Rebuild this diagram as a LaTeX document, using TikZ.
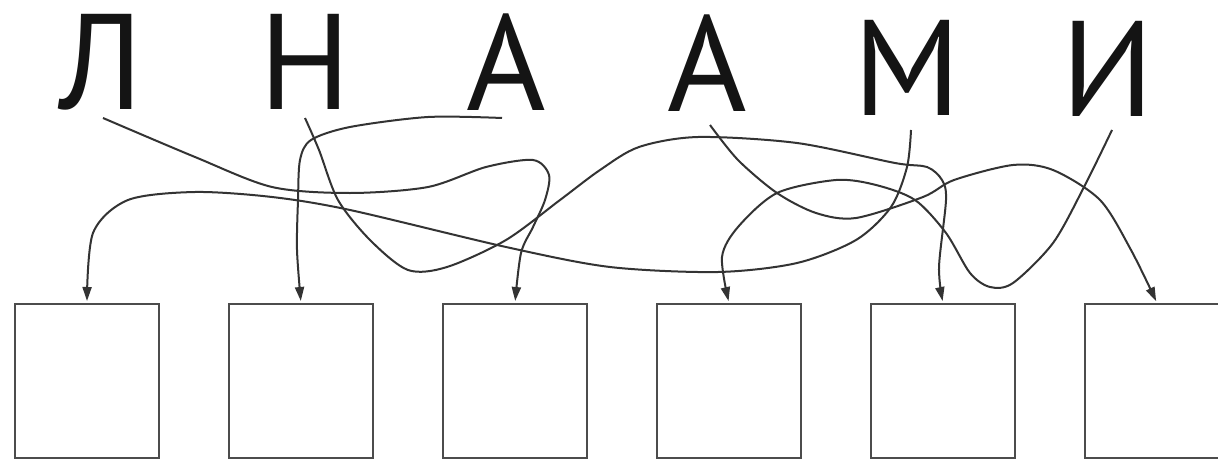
\documentclass[tikz,border=0pt]{standalone}
\usepackage{fontspec}
\setmainfont{PT Sans}
\usetikzlibrary{positioning,calc,arrows.meta}

\begin{document}
\begin{tikzpicture}[x=0.5pt, y=-0.5pt, >={Triangle[length=7pt,width=4.5pt]}, line width=1pt]
    \useasboundingbox (0,0) rectangle (1218,465);
    \fill [white] (0,0) rectangle (1218,465);
    \tikzset{letter/.style={inner sep=0pt, anchor=base, text=black!92, font=\fontsize{68}{68}\selectfont},
             answer/.style={draw=black!70, rectangle, minimum width=72pt, minimum height=77pt, inner sep=0pt},
             tangle/.style={->, draw=black!80, shorten >=1pt}}

    % letters
    \node [letter] (l) at (101,110) {Л};
    \node [letter] (n) at (305,110) {Н};
    \node [letter] (a1) at (506,111) {А};
    \node [letter] (a2) at (707,112) {А};
    \node [letter] (m) at (907,115) {М};
    \node [letter] (i) at (1108,116) {И};

    % boxes
    \node [answer] (box1) at (87,381) {};
    \node [answer, right=34pt of box1] (box2) {};
    \node [answer, right=34pt of box2] (box3) {};
    \node [answer, right=34pt of box3] (box4) {};
    \node [answer, right=34pt of box4] (box5) {};
    \node [answer, right=34pt of box5] (box6) {};

    \coordinate (l-start) at ($(l.base)+(2,8)$);
    \coordinate (n-start) at ($(n.base)+(0,8)$);
    \coordinate (a1-start) at ($(a1.base)+(-4,7)$);
    \coordinate (a2-start) at ($(a2.base)+(3,13)$);
    \coordinate (m-start) at ($(m.base)+(4,15)$);
    \coordinate (i-start) at ($(i.base)+(4,14)$);

    % tangled lines
    \draw [tangle] plot [smooth] coordinates {(l-start) (195,157) (272,187) (350,193) (428,187) (486,167) (533,160) (549,175) (545,200) (533,227) (521,253) (box3.north)};
    \draw [tangle] plot [smooth] coordinates {(n-start) (319,150) (338,200) (370,240) (408,270) (447,267) (506,240) (560,200) (600,170) (639,147) (698,137) (797,143) (895,163) (927,167) (942,180) (946,200) (939,267) (box5.north)};
    \draw [tangle] plot [smooth] coordinates {(a1-start) (428,117) (350,127) (311,140) (300,160) (298,200) (297,250) (box2.north)};
    \draw [tangle] plot [smooth] coordinates {(a2-start) (738,160) (777,193) (816,213) (856,218) (923,197) (954,180) (1013,165) (1053,170) (1100,200) (1131,250) (box6.north)};
    \draw [tangle] plot [smooth] coordinates {(m-start) (907,167) (891,207) (856,240) (797,263) (718,272) (610,267) (506,247) (350,210) (272,197) (195,192) (128,200) (93,233) (box1.north)};
    \draw [tangle] plot [smooth] coordinates {(i-start) (1084,187) (1053,243) (1013,283) (990,287) (970,273) (946,233) (915,200) (876,185) (836,180) (777,193) (738,227) (722,257) (box4.north)};
\end{tikzpicture}
\end{document}
